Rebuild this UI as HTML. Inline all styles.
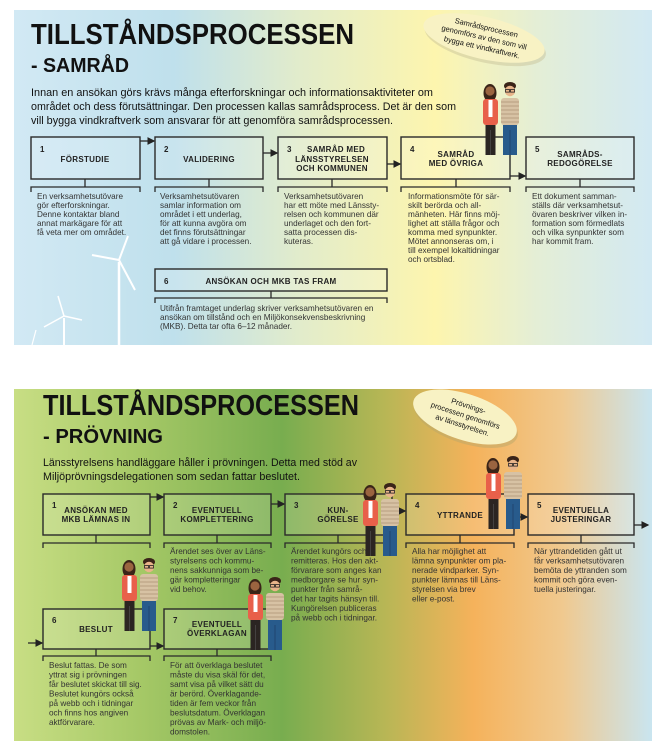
<!DOCTYPE html>
<html><head><meta charset="utf-8"><style>
html,body{margin:0;padding:0;background:#fff;}
svg{display:block;}
.t{font-family:"Liberation Sans",sans-serif;fill:#111;}
.b{font-family:"Liberation Sans",sans-serif;font-size:8.2px;fill:#333;}
.h{font-family:"Liberation Sans",sans-serif;font-size:8px;font-weight:bold;fill:#222;letter-spacing:0.3px;}
.bx{fill:rgba(255,255,255,0.15);stroke:#2a2a2a;stroke-width:1.4;}
.ln{stroke:#2a2a2a;stroke-width:1.3;fill:none;}
</style></head><body>
<svg width="665" height="752" viewBox="0 0 665 752" xmlns="http://www.w3.org/2000/svg">
<defs>
<linearGradient id="g1" x1="0" x2="1" y1="0" y2="0">
<stop offset="0" stop-color="#d2e9f4"/><stop offset="0.25" stop-color="#bfe0ec"/><stop offset="0.45" stop-color="#e2eccb"/><stop offset="0.66" stop-color="#fdf5ae"/><stop offset="0.82" stop-color="#e4eed6"/><stop offset="1" stop-color="#d2e9f3"/>
</linearGradient>
<linearGradient id="g2" x1="0" x2="1" y1="0" y2="0">
<stop offset="0" stop-color="#c8de84"/><stop offset="0.2" stop-color="#a5c866"/><stop offset="0.42" stop-color="#78ad4f"/><stop offset="0.58" stop-color="#b7b655"/><stop offset="0.72" stop-color="#f5b25b"/><stop offset="0.86" stop-color="#f0c98f"/><stop offset="1" stop-color="#c9e5f0"/>
</linearGradient>
<marker id="ar" markerWidth="6" markerHeight="6" refX="5" refY="3" orient="auto"><path d="M0,0 L6,3 L0,6 z" fill="#222"/></marker>
<g id="cp">
<ellipse cx="8" cy="11" rx="6.5" ry="9" fill="#3a2418"/>
<circle cx="8" cy="9" r="4.6" fill="#9a6440"/>
<rect x="1" y="17" width="15" height="26" rx="3" fill="#e8604a"/>
<rect x="6.5" y="18" width="4" height="17" fill="#fff"/>
<rect x="3.5" y="43" width="10" height="30" fill="#2b2522"/>
<line x1="8.5" y1="48" x2="8.5" y2="73" stroke="#555" stroke-width="0.6"/>
<ellipse cx="28" cy="4" rx="6" ry="4" fill="#3a2418"/>
<circle cx="28" cy="9" r="5.2" fill="#e8b48b"/>
<rect x="23.5" y="7.5" width="4" height="2.6" fill="none" stroke="#222" stroke-width="0.8"/>
<rect x="28.5" y="7.5" width="4" height="2.6" fill="none" stroke="#222" stroke-width="0.8"/>
<rect x="19" y="16" width="18" height="27" rx="3" fill="#d7c2a4"/>
<g stroke="#b79d80" stroke-width="1"><line x1="19" y1="20" x2="37" y2="20"/><line x1="19" y1="24" x2="37" y2="24"/><line x1="19" y1="28" x2="37" y2="28"/><line x1="19" y1="32" x2="37" y2="32"/><line x1="19" y1="36" x2="37" y2="36"/><line x1="19" y1="40" x2="37" y2="40"/></g>
<rect x="21" y="43" width="14" height="30" fill="#285b8c"/>
<line x1="28" y1="48" x2="28" y2="73" stroke="#1d4269" stroke-width="0.8"/>
</g>
</defs>

<!-- TOP PANEL -->
<rect x="14" y="10" width="638" height="335" fill="url(#g1)"/>
<g stroke="#fff" fill="#fff">
<line x1="119" y1="262" x2="119" y2="345" stroke-width="2.5"/>
<line x1="119" y1="260" x2="92" y2="255" stroke-width="2"/>
<line x1="119" y1="260" x2="128" y2="236" stroke-width="2"/>
<line x1="119" y1="260" x2="135" y2="290" stroke-width="2"/>
<line x1="64" y1="318" x2="64" y2="345" stroke-width="2"/>
<line x1="64" y1="316" x2="44" y2="327" stroke-width="1.5"/>
<line x1="64" y1="316" x2="58" y2="296" stroke-width="1.5"/>
<line x1="64" y1="316" x2="82" y2="320" stroke-width="1.5"/>
<line x1="32" y1="345" x2="36" y2="330" stroke-width="1.2"/>
</g>
<text class="t" x="31" y="44" font-size="29" font-weight="bold" textLength="323" lengthAdjust="spacingAndGlyphs">TILLSTÅNDSPROCESSEN</text>
<text class="t" x="31" y="72" font-size="20" font-weight="bold" textLength="98" lengthAdjust="spacingAndGlyphs">- SAMRÅD</text>
<g class="t" font-size="11.3">
<text x="31" y="96" textLength="402" lengthAdjust="spacingAndGlyphs">Innan en ansökan görs krävs många efterforskningar och informationsaktiviteter om</text>
<text x="31" y="110" textLength="425" lengthAdjust="spacingAndGlyphs">området och dess förutsättningar. Den processen kallas samrådsprocess. Det är den som</text>
<text x="31" y="124" textLength="362" lengthAdjust="spacingAndGlyphs">vill bygga vindkraftverk som ansvarar för att genomföra samrådsprocessen.</text>
</g>
<g transform="rotate(13 484 38)">
<ellipse cx="486" cy="41" rx="62" ry="21" fill="#c9c39a" opacity="0.5"/>
<ellipse cx="484" cy="38" rx="62" ry="21" fill="#f8f2c4"/>
<g class="t" font-size="7.5" text-anchor="middle" fill="#333"><text x="484" y="30">Samrådsprocessen</text><text x="484" y="40">genomförs av den som vill</text><text x="484" y="50">bygga ett vindkraftverk.</text></g>
</g>

<g>
<rect class="bx" x="31" y="137" width="109" height="42"/>
<rect class="bx" x="155" y="137" width="108" height="42"/>
<rect class="bx" x="278" y="137" width="109" height="42"/>
<rect class="bx" x="401" y="137" width="109" height="42"/>
<rect class="bx" x="526" y="137" width="108" height="42"/>
<rect class="bx" x="155" y="269" width="232" height="22"/>
</g>
<use href="#cp" x="482" y="82"/>
<g class="ln" marker-end="url(#ar)">
<line x1="140" y1="141" x2="154" y2="141"/>
<line x1="263" y1="153" x2="277" y2="153"/>
<line x1="387" y1="164" x2="400" y2="164"/>
<line x1="510" y1="176" x2="525" y2="176"/>
</g>
<g class="ln">
<path d="M85,179 V187 M31,192 V187 H140 V192"/>
<path d="M209,179 V187 M155,192 V187 H263 V192"/>
<path d="M332,179 V187 M278,192 V187 H387 V192"/>
<path d="M456,179 V187 M401,192 V187 H510 V192"/>
<path d="M580,179 V187 M526,192 V187 H634 V192"/>
<path d="M271,291 V298 M155,303 V298 H387 V303"/>
</g>
<g class="h">
<text x="40" y="152">1</text><text x="85" y="162" text-anchor="middle">FÖRSTUDIE</text>
<text x="164" y="152">2</text><text x="209" y="162" text-anchor="middle">VALIDERING</text>
<text x="287" y="152">3</text><text x="336" y="152" text-anchor="middle">SAMRÅD MED</text><text x="332" y="162" text-anchor="middle">LÄNSSTYRELSEN</text><text x="332" y="171" text-anchor="middle">OCH KOMMUNEN</text>
<text x="410" y="152">4</text><text x="456" y="157" text-anchor="middle">SAMRÅD</text><text x="456" y="166" text-anchor="middle">MED ÖVRIGA</text>
<text x="535" y="152">5</text><text x="580" y="157" text-anchor="middle">SAMRÅDS-</text><text x="580" y="166" text-anchor="middle">REDOGÖRELSE</text>
<text x="164" y="284">6</text><text x="271" y="284" text-anchor="middle">ANSÖKAN OCH MKB TAS FRAM</text>
</g>
<g class="b">
<text x="37" y="199">En verksamhetsutövare</text><text x="37" y="208">gör efterforskningar.</text><text x="37" y="217">Denne kontaktar bland</text><text x="37" y="226">annat markägare för att</text><text x="37" y="235">få veta mer om området.</text>
<text x="160" y="199">Verksamhetsutövaren</text><text x="160" y="208">samlar information om</text><text x="160" y="217">området i ett underlag,</text><text x="160" y="226">för att kunna avgöra om</text><text x="160" y="235">det finns förutsättningar</text><text x="160" y="244">att gå vidare i processen.</text>
<text x="284" y="199">Verksamhetsutövaren</text><text x="284" y="208">har ett möte med Länssty-</text><text x="284" y="217">relsen och kommunen där</text><text x="284" y="226">underlaget och den fort-</text><text x="284" y="235">satta processen dis-</text><text x="284" y="244">kuteras.</text>
<text x="408" y="199">Informationsmöte för sär-</text><text x="408" y="208">skilt berörda och all-</text><text x="408" y="217">mänheten. Här finns möj-</text><text x="408" y="226">lighet att ställa frågor och</text><text x="408" y="235">komma med synpunkter.</text><text x="408" y="244">Mötet annonseras om, i</text><text x="408" y="253">till exempel lokaltidningar</text><text x="408" y="262">och ortsblad.</text>
<text x="532" y="199">Ett dokument samman-</text><text x="532" y="208">ställs där verksamhetsut-</text><text x="532" y="217">övaren beskriver vilken in-</text><text x="532" y="226">formation som förmedlats</text><text x="532" y="235">och vilka synpunkter som</text><text x="532" y="244">har kommit fram.</text>
<text x="160" y="311">Utifrån framtaget underlag skriver verksamhetsutövaren en</text><text x="160" y="320">ansökan om tillstånd och en Miljökonsekvensbeskrivning</text><text x="160" y="329">(MKB). Detta tar ofta 6–12 månader.</text>
</g>

<!-- BOTTOM PANEL -->
<rect x="14" y="389" width="638" height="352" fill="url(#g2)"/>
<text class="t" x="43" y="415" font-size="29" font-weight="bold" textLength="316" lengthAdjust="spacingAndGlyphs">TILLSTÅNDSPROCESSEN</text>
<text class="t" x="43" y="443" font-size="20" font-weight="bold" textLength="120" lengthAdjust="spacingAndGlyphs">- PRÖVNING</text>
<g class="t" font-size="11.3">
<text x="43" y="466" textLength="314" lengthAdjust="spacingAndGlyphs">Länsstyrelsens handläggare håller i prövningen. Detta med stöd av</text>
<text x="43" y="480" textLength="257" lengthAdjust="spacingAndGlyphs">Miljöprövningsdelegationen som sedan fattar beslutet.</text>
</g>
<g transform="rotate(18 465 417)">
<ellipse cx="467" cy="420" rx="54" ry="23" fill="#b9a86a" opacity="0.5"/>
<ellipse cx="465" cy="417" rx="54" ry="23" fill="#f8f2c4"/>
<g class="t" font-size="7.5" text-anchor="middle" fill="#333"><text x="465" y="408">Prövnings-</text><text x="465" y="418">processen genomförs</text><text x="465" y="428">av länsstyrelsen.</text></g>
</g>
<g>
<rect class="bx" x="43" y="494" width="107" height="41"/>
<rect class="bx" x="164" y="494" width="107" height="41"/>
<rect class="bx" x="285" y="494" width="107" height="41"/>
<rect class="bx" x="406" y="494" width="108" height="41"/>
<rect class="bx" x="528" y="494" width="106" height="41"/>
<rect class="bx" x="43" y="609" width="107" height="40"/>
<rect class="bx" x="164" y="609" width="107" height="40"/>
</g>
<g class="ln" marker-end="url(#ar)">
<line x1="150" y1="497" x2="163" y2="497"/>
<line x1="271" y1="504" x2="284" y2="504"/>
<line x1="392" y1="511" x2="405" y2="511"/>
<line x1="514" y1="517" x2="527" y2="517"/>
<line x1="634" y1="525" x2="648" y2="525"/>
<line x1="28" y1="643" x2="42" y2="643"/>
<line x1="150" y1="646" x2="163" y2="646"/>
</g>
<g class="ln">
<path d="M96,535 V543 M43,548 V543 H150 V548"/>
<path d="M217,535 V543 M164,548 V543 H271 V548"/>
<path d="M338,535 V543 M285,548 V543 H392 V548"/>
<path d="M460,535 V543 M406,548 V543 H514 V548"/>
<path d="M581,535 V543 M528,548 V543 H634 V548"/>
<path d="M96,649 V656 M43,661 V656 H150 V661"/>
<path d="M217,649 V656 M164,661 V656 H271 V661"/>
</g>
<use href="#cp" x="362" y="483"/>
<use href="#cp" x="485" y="456"/>
<use href="#cp" x="121" y="558"/>
<use href="#cp" x="247" y="577"/>
<g class="h">
<text x="52" y="508">1</text><text x="96" y="513" text-anchor="middle">ANSÖKAN MED</text><text x="96" y="522" text-anchor="middle">MKB LÄMNAS IN</text>
<text x="173" y="508">2</text><text x="217" y="513" text-anchor="middle">EVENTUELL</text><text x="217" y="522" text-anchor="middle">KOMPLETTERING</text>
<text x="294" y="508">3</text><text x="338" y="513" text-anchor="middle">KUN-</text><text x="338" y="522" text-anchor="middle">GÖRELSE</text>
<text x="415" y="508">4</text><text x="460" y="518" text-anchor="middle">YTTRANDE</text>
<text x="537" y="508">5</text><text x="581" y="513" text-anchor="middle">EVENTUELLA</text><text x="581" y="522" text-anchor="middle">JUSTERINGAR</text>
<text x="52" y="623">6</text><text x="96" y="632" text-anchor="middle">BESLUT</text>
<text x="173" y="623">7</text><text x="217" y="627" text-anchor="middle">EVENTUELL</text><text x="217" y="636" text-anchor="middle">ÖVERKLAGAN</text>
</g>
<g class="b">
<text x="170" y="554">Ärendet ses över av Läns-</text><text x="170" y="563.5">styrelsens och kommu-</text><text x="170" y="573">nens sakkunniga som be-</text><text x="170" y="582.5">gär kompletteringar</text><text x="170" y="592">vid behov.</text>
<text x="291" y="554">Ärendet kungörs och</text><text x="291" y="563.5">remitteras. Hos den akt-</text><text x="291" y="573">förvarare som anges kan</text><text x="291" y="582.5">medborgare se hur syn-</text><text x="291" y="592">punkter från samrå-</text><text x="291" y="601.5">det har tagits hänsyn till.</text><text x="291" y="611">Kungörelsen publiceras</text><text x="291" y="620.5">på webb och i tidningar.</text>
<text x="412" y="554">Alla har möjlighet att</text><text x="412" y="563.5">lämna synpunkter om pla-</text><text x="412" y="573">nerade vindparker. Syn-</text><text x="412" y="582.5">punkter lämnas till Läns-</text><text x="412" y="592">styrelsen via brev</text><text x="412" y="601.5">eller e-post.</text>
<text x="534" y="554">När yttrandetiden gått ut</text><text x="534" y="563.5">får verksamhetsutövaren</text><text x="534" y="573">bemöta de yttranden som</text><text x="534" y="582.5">kommit och göra even-</text><text x="534" y="592">tuella justeringar.</text>
<text x="49" y="668">Beslut fattas. De som</text><text x="49" y="677.5">yttrat sig i prövningen</text><text x="49" y="687">får beslutet skickat till sig.</text><text x="49" y="696.5">Beslutet kungörs också</text><text x="49" y="706">på webb och i tidningar</text><text x="49" y="715.5">och finns hos angiven</text><text x="49" y="725">aktförvarare.</text>
<text x="170" y="668">För att överklaga beslutet</text><text x="170" y="677.5">måste du visa skäl för det,</text><text x="170" y="687">samt visa på vilket sätt du</text><text x="170" y="696.5">är berörd. Överklagande-</text><text x="170" y="706">tiden är fem veckor från</text><text x="170" y="715.5">beslutsdatum. Överklagan</text><text x="170" y="725">prövas av Mark- och miljö-</text><text x="170" y="734.5">domstolen.</text>
</g>
</svg>
</body></html>
